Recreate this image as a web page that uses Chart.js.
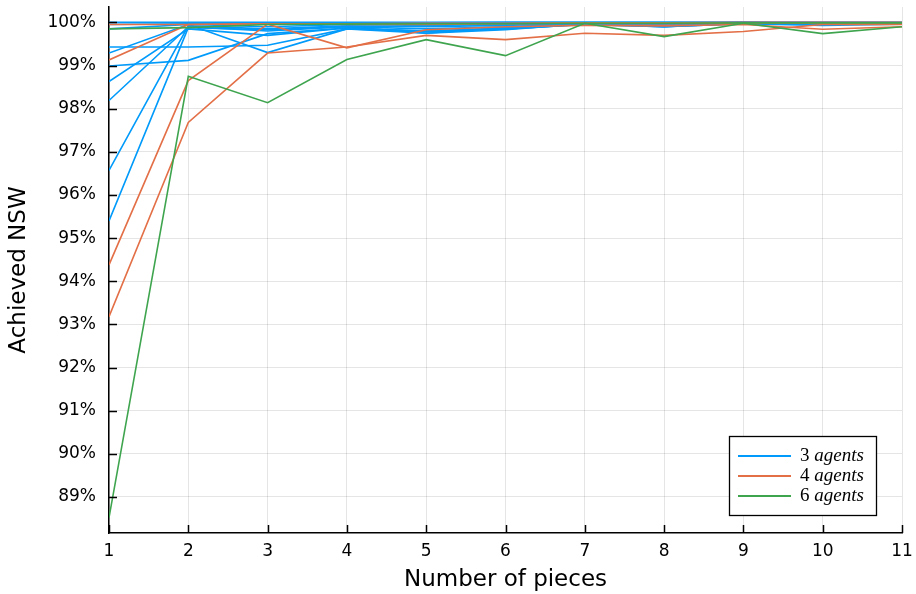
<!DOCTYPE html>
<html>
<head>
<meta charset="utf-8">
<script src="https://cdn.jsdelivr.net/npm/chart.js@4"></script>
<style>
  html, body { margin: 0; padding: 0; background: #fff; }
  #wrap { width: 916px; height: 594px; }
</style>
</head>
<body>
<div id="wrap"><canvas id="chartNSW" width="916" height="594"></canvas></div>
<script>
// numero de piezas
const pieces = [1, 2, 3, 4, 5, 6, 7, 8, 9, 10, 11];
const yTicks = [89, 90, 91, 92, 93, 94, 95, 96, 97, 98, 99, 100];

// 3 agentes (una fila por instancia)
const nsw3 = [
  [100, 100, 100, 100, 100, 100, 100, 100, 100, 100, 100],
  [99.95, 99.97, 99.98, 99.99, 99.99, 100, 100, 100, 100, 100, 100],
  [99.43, 99.43, 99.47, 99.85, 99.8, 99.85, 99.95, 99.9, 99.97, 99.95, 99.97],
  [99.29, 99.95, 99.3, 99.85, 99.75, 99.83, 99.97, 99.9, 99.98, 99.95, 99.97],
  [98.99, 99.12, 99.74, 99.87, 99.78, 99.85, 99.95, 99.9, 99.97, 99.93, 99.96],
  [98.63, 99.85, 99.7, 99.87, 99.8, 99.87, 99.97, 99.92, 99.98, 99.95, 99.97],
  [98.19, 99.9, 99.8, 99.9, 99.85, 99.9, 99.98, 99.93, 99.99, 99.96, 99.98],
  [96.57, 99.92, 99.85, 99.92, 99.9, 99.93, 99.99, 99.95, 100, 99.97, 99.98],
  [95.4, 99.88, 99.83, 99.9, 99.75, 99.88, 99.98, 99.94, 99.99, 99.96, 99.97],
  [99.85, 99.95, 99.9, 99.95, 99.93, 99.95, 99.99, 99.97, 100, 99.98, 99.99],
];

// 4 agentes
const nsw4 = [
  [99.95, 99.95, 99.97, 99.97, 99.98, 99.98, 99.99, 99.99, 100, 100, 100],
  [99.13, 99.95, 99.97, 99.95, 99.95, 99.97, 99.98, 99.97, 99.99, 99.98, 99.99],
  [94.38, 98.65, 99.96, 99.41, 99.83, 99.9, 99.93, 99.92, 99.95, 99.84, 99.9],
  [93.18, 97.68, 99.29, 99.43, 99.7, 99.6, 99.75, 99.7, 99.79, 99.95, 99.95],
];

// 6 agentes
const nsw6 = [
  [88.52, 98.75, 98.14, 99.14, 99.6, 99.23, 99.98, 99.67, 99.98, 99.74, 99.9],
  [99.85, 99.88, 99.95, 99.96, 99.97, 99.97, 99.98, 99.98, 99.99, 99.99, 99.99],
];

const grupos = [
  { filas: nsw3, color: "#009AFA", etiqueta: "3", orden: 2 },
  { filas: nsw4, color: "#E36F47", etiqueta: "4", orden: 1 },
  { filas: nsw6, color: "#3EA44E", etiqueta: "6", orden: 0 },
];

const datasets = [];
grupos.forEach((g) => {
  g.filas.forEach((fila) => {
    datasets.push({
      label: `${g.etiqueta} agents`,
      data: fila.map((v, k) => ({ x: pieces[k], y: v })),
      borderColor: g.color,
      borderWidth: 1.6,
      pointRadius: 0,
      tension: 0,
      order: g.orden,
    });
  });
});

// marcas de ticks hacia adentro
const ticksAdentro = {
  id: "ticksAdentro",
  afterDatasetsDraw(chart) {
    const { ctx, chartArea, scales } = chart;
    ctx.save();
    ctx.strokeStyle = "#000";
    ctx.lineWidth = 1.5;
    ctx.beginPath();
    yTicks.forEach((v) => {
      const py = Math.round(scales.y.getPixelForValue(v)) + 0.5;
      ctx.moveTo(chartArea.left, py);
      ctx.lineTo(chartArea.left + 8, py);
    });
    pieces.forEach((v) => {
      const px = Math.round(scales.x.getPixelForValue(v)) + 0.5;
      ctx.moveTo(px, chartArea.bottom);
      ctx.lineTo(px, chartArea.bottom - 8);
    });
    ctx.stroke();
    ctx.restore();
  },
};

// leyenda dentro del area
const leyenda = {
  id: "leyenda",
  afterDraw(chart) {
    const { ctx, chartArea } = chart;
    const w = 147, h = 79;
    const x0 = chartArea.right - 26 - w;
    const y0 = chartArea.bottom - 18 - h;
    ctx.save();
    ctx.fillStyle = "#fff";
    ctx.fillRect(x0, y0, w, h);
    ctx.strokeStyle = "#000";
    ctx.lineWidth = 1.3;
    ctx.strokeRect(Math.round(x0) + 0.5, Math.round(y0) + 0.5, w, h);
    grupos.forEach((g, i) => {
      const ly = y0 + 20 + i * 20;
      ctx.strokeStyle = g.color;
      ctx.lineWidth = 2;
      ctx.beginPath();
      ctx.moveTo(x0 + 9, ly);
      ctx.lineTo(x0 + 62, ly);
      ctx.stroke();
      ctx.fillStyle = "#000";
      ctx.textBaseline = "middle";
      ctx.font = "19px 'Liberation Serif'";
      ctx.fillText(g.etiqueta, x0 + 71, ly);
      const wNum = ctx.measureText(g.etiqueta + " ").width;
      ctx.font = "italic 19px 'Liberation Serif'";
      ctx.fillText("agents", x0 + 71 + wNum, ly);
    });
    ctx.restore();
  },
};

new Chart(document.getElementById("chartNSW"), {
  type: "line",
  data: { datasets },
  options: {
    responsive: false,
    animation: false,
    layout: { padding: { top: 7, right: 14, left: 0, bottom: 0 } },
    plugins: { legend: { display: false }, tooltip: { enabled: false } },
    scales: {
      x: {
        type: "linear",
        min: 1,
        max: 11,
        afterFit: (s) => {
          s.height = 61;
          s.paddingLeft = 0;
          s.paddingRight = 0;
        },
        afterBuildTicks: (s) => { s.ticks = pieces.map((v) => ({ value: v })); },
        grid: { color: "rgba(0,0,0,0.1)", lineWidth: 1, drawTicks: false },
        border: { color: "#000", width: 1.5 },
        ticks: {
          color: "#000",
          padding: 8,
          maxRotation: 0,
          font: { family: "'DejaVu Sans'", size: 17 },
        },
        title: {
          display: true,
          text: "Number of pieces",
          color: "#000",
          padding: { top: 0, bottom: 0 },
          font: { family: "'DejaVu Sans'", size: 23 },
        },
      },
      y: {
        type: "linear",
        min: 88.165,
        max: 100.357,
        afterFit: (s) => {
          s.width = 109;
          s.paddingTop = 0;
          s.paddingBottom = 0;
        },
        afterBuildTicks: (s) => { s.ticks = yTicks.map((v) => ({ value: v })); },
        grid: { color: "rgba(0,0,0,0.1)", lineWidth: 1, drawTicks: false },
        border: { color: "#000", width: 1.5 },
        ticks: {
          color: "#000",
          padding: 13,
          font: { family: "'DejaVu Sans'", size: 17 },
          callback: (v) => `${v}%`,
        },
        title: {
          display: true,
          text: "Achieved NSW",
          color: "#000",
          padding: { top: 5, bottom: 0 },
          font: { family: "'DejaVu Sans'", size: 23 },
        },
      },
    },
  },
  plugins: [ticksAdentro, leyenda],
});
</script>
</body>
</html>
